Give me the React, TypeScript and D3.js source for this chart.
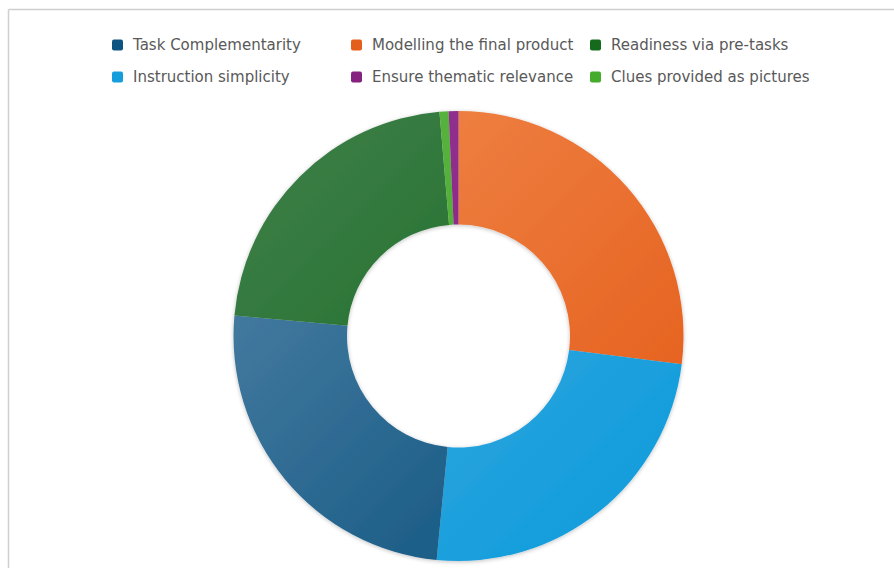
import React from "react";
import * as d3 from "d3";

// Legend order (as shown in the legend, row-wise)
const legendCategories = [
  "Task Complementarity",
  "Modelling the final product",
  "Readiness via pre-tasks",
  "Instruction simplicity",
  "Ensure thematic relevance",
  "Clues provided as pictures",
];

// Slices in clockwise drawing order starting at 12 o'clock
const sliceCategories = [
  "Modelling the final product",
  "Instruction simplicity",
  "Task Complementarity",
  "Readiness via pre-tasks",
  "Clues provided as pictures",
  "Ensure thematic relevance",
];
const sliceValues = [27.0, 24.55, 24.9, 22.2, 0.65, 0.7];

const colorMap: Record<string, [string, string]> = {
  "Task Complementarity": ["#4a7ea3", "#0f5580"],
  "Modelling the final product": ["#ef8447", "#e55f1c"],
  "Readiness via pre-tasks": ["#3a7c45", "#136b1e"],
  "Instruction simplicity": ["#43ace0", "#139ddc"],
  "Ensure thematic relevance": ["#92308f", "#85237f"],
  "Clues provided as pictures": ["#58b33f", "#45ab2c"],
};

const W = 894;
const H = 568;
const cx = 458.5;
const cy = 336;
const outerR = 225;
const innerR = 111.5;

export default function App() {
  const pie = d3
    .pie<number>()
    .sort(null)
    .value((d) => d);
  const arcs = pie(sliceValues);
  const arcGen = d3
    .arc<d3.PieArcDatum<number>>()
    .innerRadius(innerR)
    .outerRadius(outerR);

  const colX = [112, 351, 590];
  const rowY = [45, 77];

  return (
    <svg
      width={W}
      height={H}
      style={{ position: "absolute", left: 0, top: 0, background: "#fff" }}
      fontFamily="'DejaVu Sans', sans-serif"
    >
      <defs>
        {sliceCategories.map((c, i) => (
          <linearGradient
            key={c}
            id={`g${i}`}
            gradientUnits="userSpaceOnUse"
            x1={-outerR * 0.75}
            y1={-outerR * 0.75}
            x2={outerR * 0.75}
            y2={outerR * 0.75}
          >
            <stop offset="0" stopColor={colorMap[c][0]} />
            <stop offset="1" stopColor={colorMap[c][1]} />
          </linearGradient>
        ))}
        <filter id="soft" x="-10%" y="-10%" width="120%" height="120%">
          <feGaussianBlur in="SourceAlpha" stdDeviation="2" />
          <feOffset dx="0" dy="1" result="b" />
          <feComponentTransfer>
            <feFuncA type="linear" slope="0.25" />
          </feComponentTransfer>
          <feMerge>
            <feMergeNode />
            <feMergeNode in="SourceGraphic" />
          </feMerge>
        </filter>
        <filter id="lblur" x="-30%" y="-30%" width="160%" height="160%">
          <feGaussianBlur stdDeviation="0.6" />
        </filter>
      </defs>

      {/* frame */}
      <line x1={8.5} y1={9.5} x2={W} y2={9.5} stroke="#cfcfcf" strokeWidth={1.5} />
      <line x1={8.5} y1={9.5} x2={8.5} y2={H} stroke="#cfcfcf" strokeWidth={1.5} />

      {/* legend */}
      {legendCategories.map((c, i) => {
        const col = i % 3;
        const row = Math.floor(i / 3);
        return (
          <g key={c}>
            <rect
              x={colX[col]}
              y={rowY[row] - 5.5}
              width={11}
              height={11}
              rx={2}
              fill={colorMap[c][1]}
              filter="url(#lblur)"
            />
            <text
              x={colX[col] + 21}
              y={rowY[row]}
              dy="0.35em"
              fontSize={15}
              fill="#595959"
            >
              {c}
            </text>
          </g>
        );
      })}

      {/* donut */}
      <g transform={`translate(${cx},${cy})`} filter="url(#soft)">
        {arcs.map((a, i) => (
          <path key={sliceCategories[i]} d={arcGen(a) || ""} fill={`url(#g${i})`} />
        ))}
      </g>
    </svg>
  );
}
